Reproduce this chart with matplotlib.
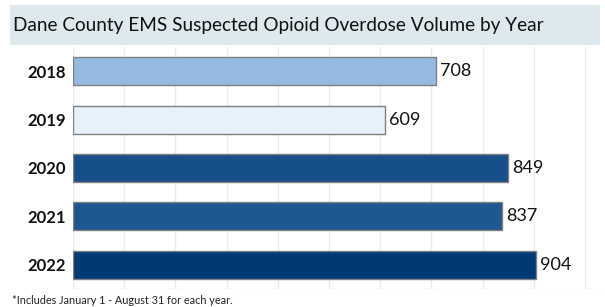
import matplotlib
matplotlib.use("Agg")
import matplotlib.pyplot as plt
from matplotlib.patches import Rectangle

years = ["2018", "2019", "2020", "2021", "2022"]
values = [708, 609, 849, 837, 904]
colors = ["#95bae2", "#e6f1fc", "#174f8a", "#1e5890", "#003a75"]
title = "Dane County EMS Suspected Opioid Overdose Volume by Year"
footnote = "*Includes January 1 - August 31 for each year."

W, H = 605, 307
fig = plt.figure(figsize=(W / 100, H / 100), dpi=100)
fig.patch.set_facecolor("white")
plt.rcParams['font.family'] = ['Lato', 'DejaVu Sans']

# title band
fig.patches.append(Rectangle((10 / W, 1 - 45 / H), 590 / W, 40 / H,
                             transform=fig.transFigure, facecolor="#dde9ec",
                             edgecolor="none", zorder=0))
fig.text(13 / W, 1 - 25 / H, title, fontsize=13.7, color="#111111",
         va="center", ha="left")

ax = fig.add_axes([73 / W, 1 - 289 / H, (603 - 73) / W, (289 - 47) / H])
ypos = list(range(len(years)))
ax.barh(ypos, values, height=0.58, color=colors, edgecolor="#808080",
        linewidth=1.0, zorder=3)
ax.set_ylim(len(years) - 0.5, -0.5)
ax.set_xlim(0, 1035)
ax.set_xticks(range(100, 1001, 100))
ax.xaxis.grid(True, color="#ebebeb", linewidth=1.0, zorder=0)
ax.tick_params(axis="x", length=0, labelbottom=False)
ax.tick_params(axis="y", length=0, pad=5)
ax.set_yticks(ypos)
ax.set_yticklabels(years, fontsize=12, fontweight="bold", color="#111111")
for s in ax.spines.values():
    s.set_visible(False)
ax.axvline(0, color="#ebebeb", linewidth=1.0, zorder=1)
ax.axhline(len(years) - 0.5, color="#ebebeb", linewidth=1.0, zorder=1)

for y, v in zip(ypos, values):
    ax.annotate(str(v), (v, y), xytext=(3, 0), textcoords="offset points",
                va="center", ha="left", fontsize=13, color="#111111")

fig.text(12 / W, 1 - 300 / H, footnote, fontsize=7.8, color="#222222",
         va="center", ha="left")

fig.savefig("out.png", dpi=100, facecolor="white")
